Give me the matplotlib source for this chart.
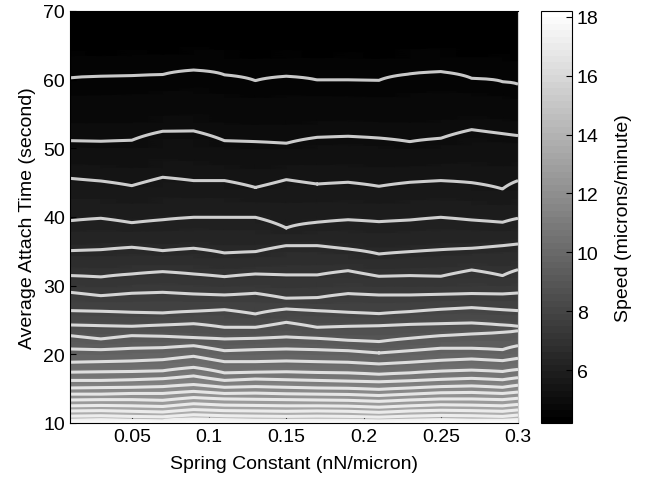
import matplotlib
matplotlib.use('Agg')
import matplotlib.pyplot as plt
import numpy as np

plt.rcParams['font.family'] = ['Liberation Sans', 'DejaVu Sans']

# spring constant columns (nN/micron)
spring_k = [0.01, 0.03, 0.05, 0.07, 0.09, 0.11, 0.13, 0.15,
            0.17, 0.19, 0.21, 0.23, 0.25, 0.27, 0.29, 0.30]

# speed contour levels (microns/minute) and the attach time (s) where each crosses a column
levels = [4.5, 5.0, 5.5, 6.0, 6.5, 7.0, 7.5, 8.0, 8.5, 9.0, 9.5,
          10.0, 10.5, 11.0, 11.5, 12.0, 12.5, 13.0, 13.5, 14.0, 14.5]
t_45 = [60.24, 60.5, 60.58, 60.73, 61.4, 60.7, 59.85, 60.5, 59.95, 59.95, 59.9, 60.83, 61.16, 60.2, 59.7, 59.33]
t_50 = [51.11, 51.02, 51.17, 52.48, 52.53, 51.11, 50.97, 50.73, 51.6, 51.75, 51.5, 50.97, 51.46, 52.72, 52.14, 51.85]
t_55 = [45.63, 45.24, 44.56, 45.78, 45.3, 45.3, 44.3, 45.44, 44.8, 45.05, 44.47, 45.05, 45.3, 45.0, 44.08, 45.3]
t_60 = [39.46, 39.81, 39.17, 39.6, 39.95, 39.95, 39.95, 38.4, 39.23, 39.6, 39.32, 39.56, 39.95, 39.56, 39.23, 39.81]
t_65 = [35.1, 35.24, 35.59, 35.1, 35.44, 34.76, 34.95, 35.83, 35.83, 35.34, 34.61, 34.95, 35.24, 35.44, 35.83, 36.07]
t_70 = [31.46, 31.27, 31.7, 32.04, 31.7, 31.31, 31.7, 31.56, 31.56, 32.18, 31.36, 31.46, 31.36, 32.28, 31.46, 32.33]
t_75 = [29.03, 28.54, 28.89, 29.03, 28.79, 28.64, 28.89, 28.16, 28.25, 28.84, 28.64, 28.64, 28.74, 28.84, 28.79, 28.93]
t_80 = [26.36, 26.27, 26.12, 26.02, 26.27, 26.5, 25.88, 26.6, 26.36, 26.12, 25.92, 26.22, 26.56, 26.8, 26.5, 26.36]
t_85 = [24.27, 24.17, 24.08, 24.27, 24.46, 23.93, 23.93, 24.66, 23.93, 24.08, 24.17, 24.36, 24.46, 24.56, 24.27, 24.08]
t_90 = [22.72, 22.24, 22.72, 22.63, 22.43, 22.24, 22.33, 22.53, 22.33, 22.04, 21.85, 22.33, 22.72, 22.97, 23.21, 23.45]
t_95 = [20.78, 20.68, 20.88, 20.97, 21.26, 20.53, 20.68, 20.78, 20.68, 20.53, 20.2, 20.53, 20.88, 20.88, 20.68, 21.26]
t_100 = [18.84, 18.93, 19.03, 19.22, 19.71, 18.93, 18.93, 19.03, 18.93, 18.84, 18.6, 18.84, 19.13, 19.32, 19.08, 19.42]
t_105 = [17.4, 17.45, 17.5, 17.6, 18.1, 17.3, 17.4, 17.45, 17.35, 17.3, 17.1, 17.3, 17.55, 17.7, 17.5, 17.8]
t_110 = [16.2, 16.2, 16.3, 16.45, 16.85, 16.2, 16.4, 16.3, 16.2, 16.1, 16.0, 16.15, 16.35, 16.5, 16.3, 16.6]
t_115 = [15.1, 15.15, 15.2, 15.3, 15.6, 15.2, 15.3, 15.2, 15.1, 15.05, 14.9, 15.1, 15.3, 15.4, 15.2, 15.5]
t_120 = [14.2, 14.2, 14.3, 14.3, 14.6, 14.3, 14.35, 14.25, 14.2, 14.15, 14.0, 14.2, 14.4, 14.45, 14.3, 14.5]
t_125 = [13.35, 13.4, 13.4, 13.3, 13.7, 13.5, 13.45, 13.4, 13.35, 13.3, 13.15, 13.35, 13.5, 13.5, 13.4, 13.6]
t_130 = [12.5, 12.55, 12.5, 12.4, 12.8, 12.6, 12.55, 12.5, 12.5, 12.45, 12.3, 12.5, 12.65, 12.6, 12.5, 12.7]
t_135 = [11.75, 11.8, 11.7, 11.6, 11.95, 11.8, 11.75, 11.7, 11.75, 11.7, 11.55, 11.75, 11.85, 11.8, 11.7, 11.9]
t_140 = [11.0, 11.05, 10.95, 10.9, 11.2, 11.05, 11.0, 10.95, 11.0, 10.95, 10.85, 11.0, 11.1, 11.05, 10.95, 11.15]
t_145 = [10.4, 10.45, 10.35, 10.3, 10.55, 10.45, 10.4, 10.35, 10.4, 10.35, 10.3, 10.4, 10.45, 10.4, 10.35, 10.5]

# speed on the edges of the plot: attach time 10 s and 70 s
speed_t10 = [16.8, 17.0, 18.1, 17.2, 17.6, 16.9, 17.0, 16.8, 17.0, 17.2, 16.9, 17.1, 18.0, 17.0, 18.1, 17.4]
speed_t70 = [4.3, 4.25, 4.3, 4.25, 4.3, 4.3, 4.25, 4.3, 4.25, 4.3, 4.25, 4.3, 4.3, 4.25, 4.3, 4.25]

line_levels = [4.5, 5.0, 5.5, 6.0, 6.5, 7.0, 7.5, 8.0, 8.5, 9.0, 9.5, 10.0, 10.5, 11.0,
               11.5, 12.0, 12.5, 13.0, 13.5, 14.0, 14.5, 15.0, 15.5, 16.0, 16.5, 17.0, 17.5, 18.0]

crossings = [t_45, t_50, t_55, t_60, t_65, t_70, t_75, t_80, t_85, t_90, t_95,
             t_100, t_105, t_110, t_115, t_120, t_125, t_130, t_135, t_140, t_145]

# build the speed surface column by column
t_grid = np.linspace(10, 70, 601)
Z = np.zeros((len(t_grid), len(spring_k)))
for j in range(len(spring_k)):
    tt = [10.0] + [row[j] for row in crossings[::-1]] + [70.0]
    vv = [speed_t10[j]] + levels[::-1] + [speed_t70[j]]
    Z[:, j] = np.interp(t_grid, tt, vv)

vmin, vmax = 4.2, 18.2
cmap = plt.get_cmap('gray', 64)

fig = plt.figure(figsize=(6.45, 4.85), dpi=100)
ax = fig.add_axes([0.1085, 0.1258, 0.6946, 0.8495])
cax = fig.add_axes([0.8388, 0.1258, 0.048, 0.8495])

K, T = np.meshgrid(spring_k, t_grid)
ax.pcolormesh(K, T, Z, cmap=cmap, vmin=vmin, vmax=vmax, shading='gouraud')
line_cols = [str(0.79 + 0.2 * (l - 4.5) / 13.5) for l in line_levels]
ax.contour(K, T, Z, levels=line_levels, colors=line_cols, linewidths=2.2)

ax.set_xlim(0.01, 0.3)
ax.set_ylim(10, 70)
ax.set_xticks([0.05, 0.1, 0.15, 0.2, 0.25, 0.3])
ax.set_xticklabels(['0.05', '0.1', '0.15', '0.2', '0.25', '0.3'])
ax.set_yticks([10, 20, 30, 40, 50, 60, 70])
ax.tick_params(direction='in', length=4, labelsize=14, colors='black')
ax.spines['right'].set_color('#d0d0d0')
ax.set_xlabel('Spring Constant (nN/micron)', fontsize=14, labelpad=7)
ax.set_ylabel('Average Attach Time (second)', fontsize=14, labelpad=5)

sm = matplotlib.cm.ScalarMappable(norm=matplotlib.colors.Normalize(vmin, vmax), cmap=cmap)
cb = fig.colorbar(sm, cax=cax)
cb.set_ticks([6, 8, 10, 12, 14, 16, 18])
cax.tick_params(direction='in', length=4, labelsize=14)
cb.set_label('Speed (microns/minute)', fontsize=14, labelpad=12)

fig.savefig('out.png', dpi=100)
